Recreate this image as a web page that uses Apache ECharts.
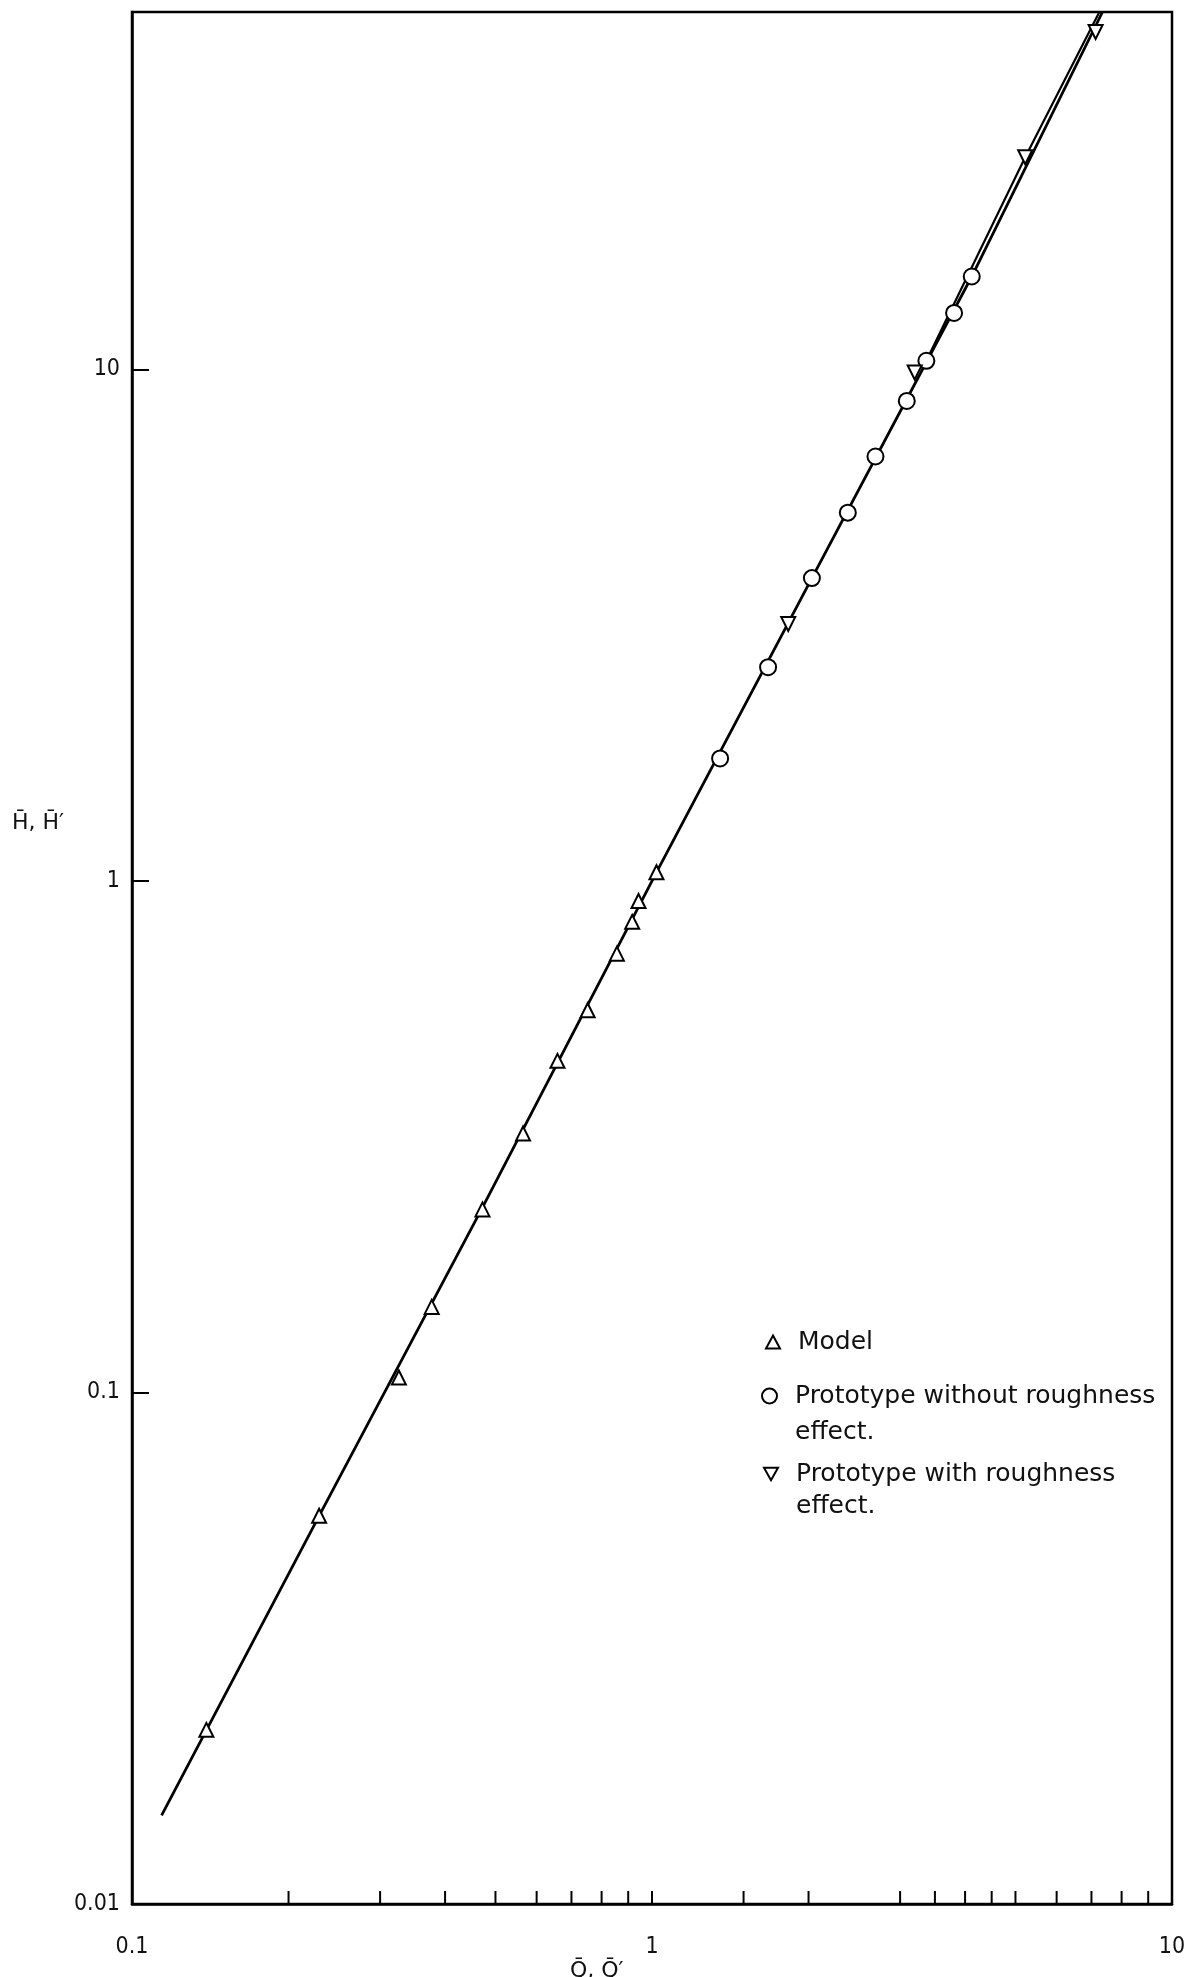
<!DOCTYPE html>
<html>
<head>
<meta charset="utf-8">
<script src="https://cdn.jsdelivr.net/npm/echarts@6/dist/echarts.min.js"></script>
<style>
html,body{margin:0;padding:0;background:#fff;}
#chart{width:1190px;height:1977px;}
</style>
</head>
<body>
<div id="chart"></div>
<script>
// ---- data ----
const xTickValues = [0.1, 1, 10];
const xTickLabels = ['0.1', '1', '10'];
const yTickValues = [0.01, 0.1, 1, 10];
const yTickLabels = ['0.01', '0.1', '1', '10'];
const xMinorTicks = [0.2, 0.3, 0.4, 0.5, 0.6, 0.7, 0.8, 0.9, 1, 1.5, 2, 3, 3.5, 4, 4.5, 5, 6, 7, 8, 9];
const xMin = 0.1, xMax = 10, yMin = 0.01, yMax = 50;

const modelQ = [0.139, 0.229, 0.326, 0.377, 0.472, 0.565, 0.658, 0.752, 0.856, 0.916, 0.942, 1.02];
const modelH = [0.0219, 0.0574, 0.107, 0.147, 0.228, 0.321, 0.445, 0.559, 0.721, 0.832, 0.914, 1.04];

const protoQ = [1.352, 1.672, 2.03, 2.38, 2.69, 3.09, 3.37, 3.81, 4.12];
const protoH = [1.736, 2.618, 3.91, 5.25, 6.76, 8.68, 10.4, 12.9, 15.2];

const roughQ = [1.828, 3.20, 5.22, 7.13];
const roughH = [3.18, 9.87, 26.0, 45.7];

const curve1Q = [0.114, 0.229, 0.47, 1.02, 2.03, 4.12, 7.35];
const curve1H = [0.0149, 0.0574, 0.228, 1.04, 3.91, 15.2, 50];
const curve2Q = [3.37, 5.22, 7.25];
const curve2H = [10.4, 26.0, 50];

const nameModel = 'Model';
const nameProto = 'Prototype without roughness effect.';
const nameRough = 'Prototype with roughness effect.';
const textProto = ['Prototype without roughness', 'effect.'];
const textRough = ['Prototype with roughness', 'effect.'];

// ---- helpers ----
const pairs = (xs, ys) => xs.map((x, i) => [x, ys[i]]);
const labelFor = (vals, labs) => v => {
  const i = vals.findIndex(t => Math.abs(t - v) / t < 1e-6);
  return i >= 0 ? labs[i] : '';
};
const downTri = 'path://M0,0 L10,0 L5,9 Z';
const markerStyle = {color: '#fff', borderColor: '#000', borderWidth: 2, opacity: 1};
const tickFont = '"Liberation Sans Narrow", "DejaVu Sans Condensed", "Liberation Sans", sans-serif';
const legendText = (lh) => ({
  fontFamily: 'DejaVu Sans', fontSize: 25, color: '#111', lineHeight: lh, padding: [0, 0, 0, 13]
});

const chart = echarts.init(document.getElementById('chart'), null, {renderer: 'canvas'});
chart.setOption({
  animation: false,
  backgroundColor: '#fff',
  grid: {left: 132, right: 18, top: 12, bottom: 73, show: true, borderColor: '#000', borderWidth: 2.5, backgroundColor: 'transparent'},
  xAxis: {
    type: 'log', logBase: 10, min: xMin, max: xMax,
    axisLine: {lineStyle: {color: '#000', width: 2.5}},
    axisTick: {show: false},
    splitLine: {show: false},
    axisLabel: {
      formatter: labelFor(xTickValues, xTickLabels), margin: 32,
      fontFamily: tickFont, fontSize: 23, color: '#111'
    }
  },
  yAxis: {
    type: 'log', logBase: 10, min: yMin, max: yMax,
    axisLine: {lineStyle: {color: '#000', width: 2.5}},
    axisTick: {show: true, inside: true, length: 17, lineStyle: {color: '#000', width: 2}},
    splitLine: {show: false},
    axisLabel: {
      formatter: labelFor(yTickValues, yTickLabels), margin: 12,
      fontFamily: tickFont, fontSize: 23, color: '#111'
    }
  },
  legend: [
    {data: [nameModel], orient: 'vertical', left: 765, top: 1326, padding: 0, itemWidth: 14, itemHeight: 13,
     textStyle: legendText(32)},
    {data: [nameProto], orient: 'vertical', left: 761, top: 1342, padding: 0, itemWidth: 15, itemHeight: 15,
     formatter: () => ' \n' + textProto.join('\n'), textStyle: legendText(36)},
    {data: [nameRough], orient: 'vertical', left: 763, top: 1426, padding: 0, itemWidth: 14, itemHeight: 13,
     formatter: () => ' \n' + textRough.join('\n'), textStyle: legendText(32)}
  ],
  graphic: [
    {type: 'text', left: 12, top: 812, style: {text: 'H\u0304, H\u0304\u2032', font: '22px "DejaVu Sans"', fill: '#111'}},
    {type: 'text', left: 570, top: 1960, style: {text: 'Q\u0304, Q\u0304\u2032', font: '22px "DejaVu Sans"', fill: '#111'}}
  ],
  series: [
    {type: 'line', name: 'curve1', data: pairs(curve1Q, curve1H), showSymbol: false, symbol: 'none',
     lineStyle: {color: '#000', width: 2.8}, silent: true, z: 2},
    {type: 'line', name: 'curve2', data: pairs(curve2Q, curve2H), showSymbol: false, symbol: 'none',
     lineStyle: {color: '#000', width: 2.2}, silent: true, z: 2},
    {type: 'custom', name: 'xticks', silent: true, clip: false, z: 3,
     data: xMinorTicks.map(v => [v, yMin]),
     renderItem: (params, api) => {
       const p = api.coord([api.value(0), api.value(1)]);
       return {type: 'line', shape: {x1: p[0], y1: p[1], x2: p[0], y2: p[1] - 13},
               style: {stroke: '#000', lineWidth: 2}};
     }},
    {type: 'scatter', name: nameModel, data: pairs(modelQ, modelH), symbol: 'triangle', symbolSize: 14,
     itemStyle: markerStyle, z: 5},
    {type: 'scatter', name: nameProto, data: pairs(protoQ, protoH), symbol: 'circle', symbolSize: 16,
     itemStyle: markerStyle, z: 5},
    {type: 'scatter', name: nameRough, data: pairs(roughQ, roughH), symbol: downTri, symbolSize: 14,
     itemStyle: markerStyle, z: 5}
  ]
});
</script>
</body>
</html>
